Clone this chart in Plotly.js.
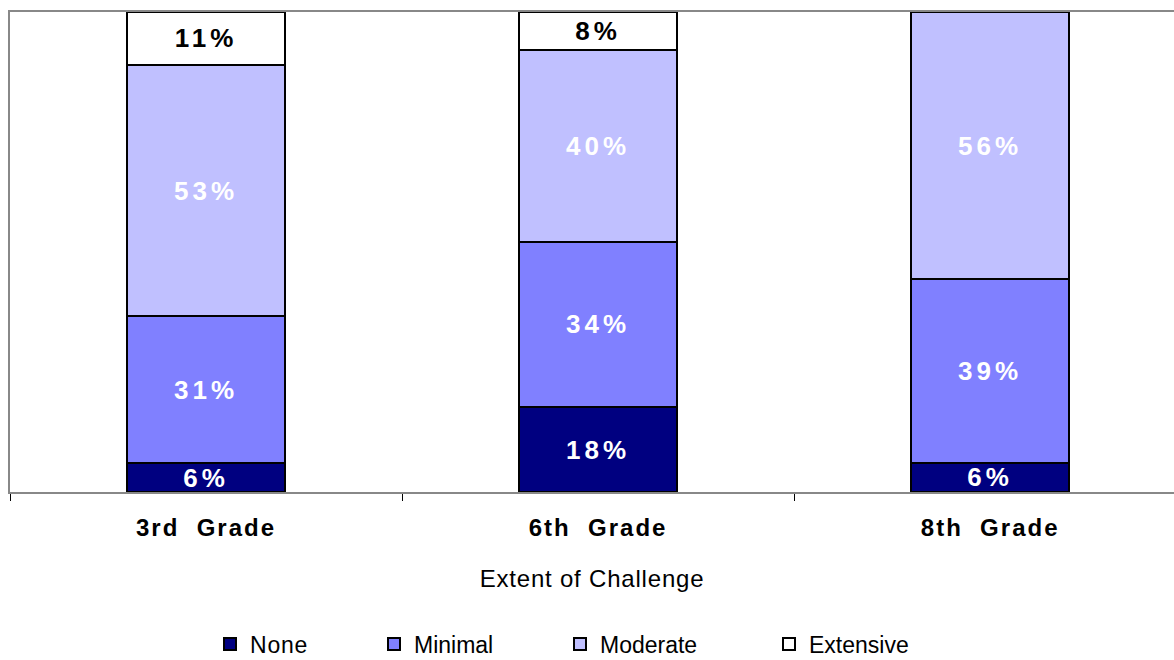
<!DOCTYPE html>
<html>
<head>
<meta charset="utf-8">
<script src="https://cdn.plot.ly/plotly-3.0.1.min.js"></script>
<style>
  html, body { margin: 0; padding: 0; background: #fff; }
  #chart { width: 1174px; height: 660px; }
  .bartext { letter-spacing: 4px; }
  .xtick text { letter-spacing: 2px; }
  .xtitle { letter-spacing: 0.8px; }
  .legendtext { letter-spacing: 0.8px; }
</style>
</head>
<body>
<div id="chart"></div>
<script>
// ---- data (percent of students) ----
var categories = ['3rd Grade', '6th Grade', '8th Grade'];
var tickLabels = ['3rd\u00a0\u00a0Grade', '6th\u00a0\u00a0Grade', '8th\u00a0\u00a0Grade'];

var noneVals      = [6.0, 17.7, 6.1];
var minimalVals   = [30.6, 34.4, 38.2];
var moderateVals  = [52.4, 40.0, 55.7];
var extensiveVals = [11.0, 7.9, 0];

var noneLabels      = ['6%', '18%', '6%'];
var minimalLabels   = ['31%', '34%', '39%'];
var moderateLabels  = ['53%', '40%', '56%'];
var extensiveLabels = ['11%', '8%', ''];

var seriesNames = ['None', 'Minimal', 'Moderate', 'Extensive'];
// ------------------------------------------------------------

var FONT = '"Liberation Sans", Arial, sans-serif';
var colors = ['#000080', '#8080FF', '#C0C0FF', '#FFFFFF'];
var textColors = ['#FFFFFF', '#FFFFFF', '#FFFFFF', '#000000'];
var values = [noneVals, minimalVals, moderateVals, extensiveVals];
var labels = [noneLabels, minimalLabels, moderateLabels, extensiveLabels];
var legendIds = ['legend', 'legend2', 'legend3', 'legend4'];

var traces = seriesNames.map(function (name, i) {
  return {
    type: 'bar',
    name: name,
    x: categories,
    y: values[i],
    text: labels[i],
    textposition: 'inside',
    insidetextanchor: 'middle',
    constraintext: 'none',
    textangle: 0,
    textfont: { family: FONT, size: 26, color: textColors[i], weight: 'bold' },
    marker: { color: colors[i], line: { color: '#000000', width: 2 } },
    hoverinfo: 'name+y',
    legend: legendIds[i],
    cliponaxis: true
  };
});

function legendAt(px) {
  return {
    x: (px - 10) / 1164, xanchor: 'left',
    xref: 'paper',
    y: 1 - 644 / 660, yanchor: 'middle',
    yref: 'container',
    orientation: 'h',
    bgcolor: 'rgba(0,0,0,0)',
    borderwidth: 0,
    font: { family: FONT, size: 23, color: '#000000' }
  };
}

var layout = {
  width: 1174,
  height: 660,
  margin: { l: 10, r: 0, t: 12, b: 168, pad: 0, autoexpand: false },
  paper_bgcolor: '#FFFFFF',
  plot_bgcolor: '#FFFFFF',
  barmode: 'stack',
  bargap: 0.597,
  showlegend: true,
  xaxis: {
    type: 'category',
    tickmode: 'array',
    tickvals: categories,
    ticktext: tickLabels,
    range: [-0.5, 2.469],
    tickson: 'boundaries',
    ticks: 'outside',
    ticklen: 7,
    tickwidth: 1,
    tickcolor: '#000000',
    showline: true,
    linecolor: '#888888',
    linewidth: 2,
    mirror: true,
    showgrid: false,
    zeroline: false,
    automargin: false,
    ticklabelstandoff: 13,
    tickfont: { family: FONT, size: 24, color: '#000000', weight: 'bold' },
    title: {
      text: 'Extent of Challenge',
      standoff: 30,
      font: { family: FONT, size: 24, color: '#000000' }
    },
    fixedrange: true
  },
  yaxis: {
    range: [0, 100],
    showticklabels: false,
    ticks: '',
    showgrid: false,
    zeroline: false,
    showline: true,
    linecolor: '#888888',
    linewidth: 2,
    automargin: false,
    fixedrange: true
  },
  legend: legendAt(210),
  legend2: legendAt(374),
  legend3: legendAt(560),
  legend4: legendAt(769)
};

Plotly.newPlot('chart', traces, layout, { displayModeBar: false, staticPlot: true });
</script>
</body>
</html>
